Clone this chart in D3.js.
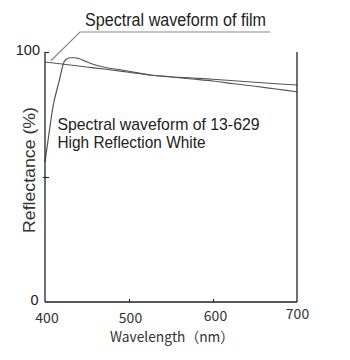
<!DOCTYPE html>
<html>
<head>
<meta charset="utf-8">
<script src="https://cdn.jsdelivr.net/npm/d3@7"></script>
<style>
  html, body { margin: 0; padding: 0; background: #fff; }
  svg { display: block; }
</style>
</head>
<body>
<svg id="chart" width="350" height="360"></svg>
<script>
// Reflectance spectra (%), sampled by wavelength (nm)
const filmWavelengths = [400, 425, 450, 475, 500, 525, 550, 575, 600, 625, 650, 675, 700];
const filmReflectance = [96, 95, 94, 93, 91.9, 90.8, 90.1, 89.6, 89.1, 88.5, 87.9, 87.3, 86.8];

const whiteWavelengths = [400, 405, 410, 415, 418, 420, 422, 425, 430, 435, 440, 450, 460, 475, 490, 500, 525, 550, 575, 600, 625, 650, 675, 700];
const whiteReflectance = [56, 68, 79, 86, 90, 93, 95.5, 97, 97.7, 97.7, 97.4, 96, 94.8, 93.6, 92.9, 92.3, 90.8, 90, 89.2, 88.4, 87.3, 86.3, 85.2, 84.1];

const xTicks = [400, 500, 600, 700];
const yTicks = [0, 50, 100];
const yTickLabels = ["0", "", "100"];

const filmLabel = "Spectral waveform of film";
const whiteLabel = ["Spectral waveform of 13-629", "High Reflection White"];
const xTitle = "Wavelength\uFF08nm\uFF09";
const yTitle = "Reflectance (%)";

const svg = d3.select("#chart");
const margin = { top: 52, right: 53, bottom: 58, left: 45 };
const W = 350, H = 360;
const innerW = W - margin.left - margin.right;
const innerH = H - margin.top - margin.bottom;

const x = d3.scaleLinear().domain([400, 700]).range([margin.left, margin.left + innerW]);
const y = d3.scaleLinear().domain([0, 100]).range([margin.top + innerH, margin.top]);

const latin = "'Liberation Sans', Arial, sans-serif";
const cjk = "'Noto Sans CJK JP', 'Noto Sans', sans-serif";
const axisColor = "#222";
const curveColor = "#555";

// Curves
const line = d3.line().x(d => x(d[0])).y(d => y(d[1])).curve(d3.curveMonotoneX);
svg.append("path")
  .datum(d3.zip(filmWavelengths, filmReflectance))
  .attr("d", line).attr("fill", "none")
  .attr("stroke", curveColor).attr("stroke-width", 1.2);
svg.append("path")
  .datum(d3.zip(whiteWavelengths, whiteReflectance))
  .attr("d", line).attr("fill", "none")
  .attr("stroke", curveColor).attr("stroke-width", 1.2);

// Left axis
const yAxis = svg.append("g")
  .attr("transform", `translate(${margin.left},0)`)
  .call(d3.axisLeft(y).tickValues(yTicks).tickSize(-4).tickPadding(0)
    .tickFormat((d, i) => yTickLabels[i]));
yAxis.select(".domain").remove();
yAxis.append("line")
  .attr("x1", 0).attr("x2", 0).attr("y1", y(100)).attr("y2", y(0))
  .attr("stroke", axisColor).attr("stroke-width", 1.3);
yAxis.selectAll(".tick line").attr("stroke", axisColor).attr("stroke-width", 1.1)
  .attr("x1", d => d === 50 ? -2 : 0)
  .attr("x2", d => d === 0 ? 0 : 4);
yAxis.selectAll(".tick text")
  .attr("x", d => d === 0 ? -6.5 : -5)
  .attr("dy", "0.32em")
  .attr("y", -2)
  .attr("fill", "#222")
  .style("font-family", latin).style("font-size", "14.5px");

// Bottom axis
const xAxis = svg.append("g")
  .attr("transform", `translate(0,${margin.top + innerH})`)
  .call(d3.axisBottom(x).tickValues(xTicks).tickSize(-3).tickPadding(0).tickFormat(d3.format("d")));
xAxis.select(".domain").remove();
xAxis.append("line")
  .attr("x1", x(400)).attr("x2", x(700)).attr("y1", 0).attr("y2", 0)
  .attr("stroke", axisColor).attr("stroke-width", 1.3);
xAxis.selectAll(".tick line").attr("stroke", axisColor).attr("stroke-width", 1.1)
  .attr("opacity", d => (d === 400 || d === 700) ? 0 : 1);
const labelShift = { 400: [1.5, 21], 500: [1, 20.5], 600: [2, 19], 700: [0, 16.5] };
xAxis.selectAll(".tick text")
  .attr("x", d => labelShift[d][0])
  .attr("y", d => labelShift[d][1])
  .attr("dy", 0)
  .attr("fill", "#333")
  .style("font-family", cjk).style("font-size", "14px");

// Right frame line
svg.append("line")
  .attr("x1", x(700)).attr("x2", x(700)).attr("y1", y(100)).attr("y2", y(0))
  .attr("stroke", axisColor).attr("stroke-width", 1.3);

// Axis titles
svg.append("text")
  .attr("x", 110).attr("y", 341.5)
  .attr("textLength", 124).attr("lengthAdjust", "spacingAndGlyphs")
  .attr("fill", "#333")
  .style("font-family", cjk).style("font-size", "14px")
  .text(xTitle);

svg.append("text")
  .attr("transform", `translate(35,${170}) rotate(-90)`)
  .attr("text-anchor", "middle")
  .attr("textLength", 126).attr("lengthAdjust", "spacingAndGlyphs")
  .attr("fill", "#333")
  .style("font-family", latin).style("font-size", "17px")
  .text(yTitle);

// Film annotation with leader line
const leaderStart = [x(407), y(96.5)];
svg.append("polyline")
  .attr("points", [leaderStart, [80, 32], [270, 32]].map(p => p.join(",")).join(" "))
  .attr("fill", "none").attr("stroke", "#888").attr("stroke-width", 1.2);
svg.append("text")
  .attr("x", 85).attr("y", 25.5)
  .attr("textLength", 181).attr("lengthAdjust", "spacingAndGlyphs")
  .attr("fill", "#222")
  .style("font-family", latin).style("font-size", "17.5px")
  .text(filmLabel);

// 13-629 annotation
const wl = svg.append("text")
  .attr("fill", "#222")
  .style("font-family", latin).style("font-size", "17px");
wl.append("tspan").attr("x", 57.5).attr("y", 129.5)
  .attr("textLength", 202).attr("lengthAdjust", "spacingAndGlyphs")
  .text(whiteLabel[0]);
wl.append("tspan").attr("x", 57.5).attr("y", 147.5)
  .attr("textLength", 148).attr("lengthAdjust", "spacingAndGlyphs")
  .text(whiteLabel[1]);
</script>
</body>
</html>
